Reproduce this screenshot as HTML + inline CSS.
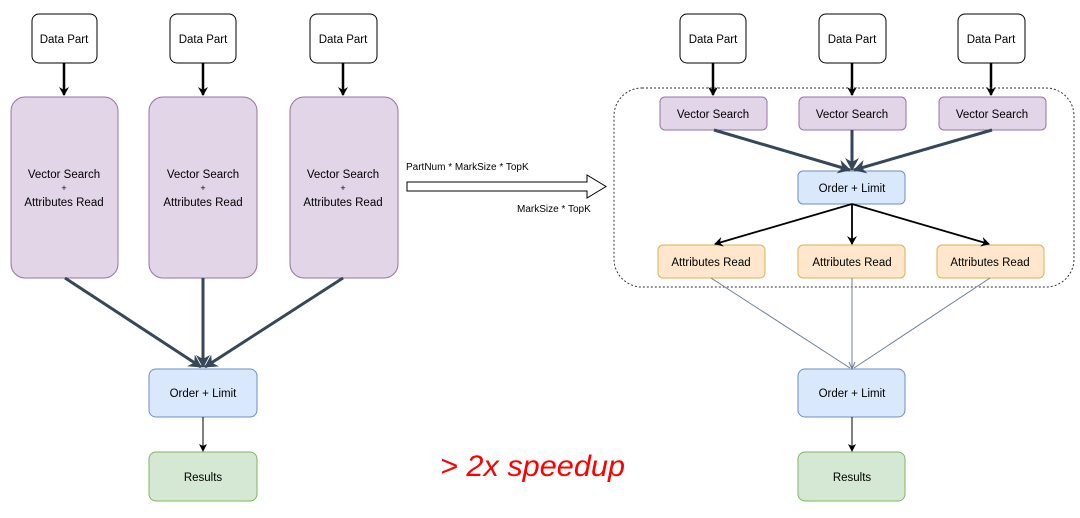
<!DOCTYPE html>
<html><head><meta charset="utf-8"><style>
body{margin:0;background:#fff;width:1080px;height:513px;overflow:hidden}
</style></head><body>
<svg width="1080" height="513" xmlns="http://www.w3.org/2000/svg" font-family="Liberation Sans, sans-serif" font-size="11.5" fill="#000">
<defs>
<marker id="ab" markerWidth="10" markerHeight="10" refX="8" refY="5" orient="auto" markerUnits="userSpaceOnUse"><path d="M0,0 L9,5 L0,10 L3,5 Z" fill="#000"/></marker>
<marker id="ad" markerWidth="14" markerHeight="14" refX="12" refY="7" orient="auto" markerUnits="userSpaceOnUse"><path d="M0,0 L13,7 L0,14 L4,7 Z" fill="#36475a"/></marker>
<marker id="as" markerWidth="8" markerHeight="8" refX="7" refY="4" orient="auto" markerUnits="userSpaceOnUse"><path d="M0,0 L8,4 L0,8 L2,4 Z" fill="#000"/></marker>
</defs>
<g stroke="#000" stroke-width="1" fill="#fff">
<rect x="32" y="14" width="65" height="49" rx="7"/><rect x="170" y="14" width="66" height="49" rx="7"/><rect x="310" y="14" width="67" height="49" rx="7"/>
<rect x="680" y="14" width="66" height="49" rx="7"/><rect x="819" y="14" width="67" height="49" rx="7"/><rect x="958" y="14" width="67" height="49" rx="7"/>
</g>
<g text-anchor="middle">
<text x="64" y="43">Data Part</text><text x="203" y="43">Data Part</text><text x="343" y="43">Data Part</text>
<text x="713" y="43">Data Part</text><text x="852" y="43">Data Part</text><text x="991" y="43">Data Part</text>
</g>
<g stroke="#000" stroke-width="2.5">
<line x1="64" y1="63" x2="64" y2="95" marker-end="url(#ab)"/><line x1="203" y1="63" x2="203" y2="95" marker-end="url(#ab)"/><line x1="343" y1="63" x2="343" y2="95" marker-end="url(#ab)"/>
<line x1="713" y1="63" x2="713" y2="95" marker-end="url(#ab)"/><line x1="852" y1="63" x2="852" y2="95" marker-end="url(#ab)"/><line x1="991" y1="63" x2="991" y2="95" marker-end="url(#ab)"/>
</g>
<g fill="#e1d5e7" stroke="#9673a6">
<rect x="11" y="97" width="107" height="181" rx="14"/><rect x="149" y="97" width="108" height="181" rx="14"/><rect x="290" y="97" width="108" height="181" rx="14"/>
<rect x="660" y="97" width="107" height="33" rx="5"/><rect x="799" y="97" width="107" height="33" rx="5"/><rect x="939" y="97" width="107" height="33" rx="5"/>
</g>
<g text-anchor="middle">
<text x="64" y="178">Vector Search</text><text x="64" y="191" font-size="9">+</text><text x="64" y="206">Attributes Read</text>
<text x="203" y="178">Vector Search</text><text x="203" y="191" font-size="9">+</text><text x="203" y="206">Attributes Read</text>
<text x="343" y="178">Vector Search</text><text x="343" y="191" font-size="9">+</text><text x="343" y="206">Attributes Read</text>
<text x="713" y="118">Vector Search</text><text x="852" y="118">Vector Search</text><text x="992" y="118">Vector Search</text>
</g>
<rect x="614" y="88" width="460" height="199" rx="28" fill="none" stroke="#333" stroke-dasharray="2,2"/>
<g fill="#dae8fc" stroke="#6c8ebf">
<rect x="149" y="369" width="108" height="48" rx="7"/><rect x="798" y="171" width="107" height="33" rx="5"/><rect x="798" y="369" width="107" height="48" rx="7"/>
</g>
<g fill="#d5e8d4" stroke="#82b366">
<rect x="149" y="452" width="108" height="49" rx="7"/><rect x="798" y="452" width="107" height="49" rx="7"/>
</g>
<g fill="#ffe6cc" stroke="#d6b656">
<rect x="658" y="245" width="107" height="33" rx="5"/><rect x="798" y="245" width="107" height="33" rx="5"/><rect x="937" y="245" width="107" height="33" rx="5"/>
</g>
<g text-anchor="middle">
<text x="203" y="397">Order + Limit</text><text x="852" y="192">Order + Limit</text><text x="852" y="397">Order + Limit</text>
<text x="203" y="481">Results</text><text x="852" y="481">Results</text>
<text x="711" y="266">Attributes Read</text><text x="852" y="266">Attributes Read</text><text x="990" y="266">Attributes Read</text>
</g>
<g stroke="#36475a" stroke-width="3">
<line x1="65" y1="278" x2="201" y2="367" marker-end="url(#ad)"/><line x1="203" y1="278" x2="203" y2="367" marker-end="url(#ad)"/><line x1="343" y1="278" x2="205" y2="367" marker-end="url(#ad)"/>
<line x1="714" y1="130" x2="850" y2="170" marker-end="url(#ad)"/><line x1="852" y1="130" x2="852" y2="170" marker-end="url(#ad)"/><line x1="992" y1="130" x2="854" y2="170" marker-end="url(#ad)"/>
</g>
<g stroke="#000" stroke-width="1.8">
<line x1="852" y1="204" x2="715" y2="244" marker-end="url(#ab)"/><line x1="852" y1="204" x2="852" y2="244" marker-end="url(#ab)"/><line x1="852" y1="204" x2="989" y2="244" marker-end="url(#ab)"/>
</g>
<g stroke="#6f7f90" stroke-width="1">
<line x1="711" y1="278" x2="850" y2="368"/><line x1="852" y1="278" x2="852" y2="368"/><line x1="990" y1="278" x2="854" y2="368"/>
</g>
<path d="M849,362 L852,369 L855,362" fill="none" stroke="#6f7f90"/>
<g stroke="#000" stroke-width="1">
<line x1="203" y1="417" x2="203" y2="451" marker-end="url(#as)"/><line x1="852" y1="417" x2="852" y2="451" marker-end="url(#as)"/>
</g>
<path d="M407,182 L587,182 L587,175 L606,186.5 L587,198 L587,191 L407,191 Z" fill="#fff" stroke="#000"/>
<text x="406" y="170" font-size="10">PartNum * MarkSize * TopK</text>
<text x="517" y="212" font-size="10">MarkSize * TopK</text>
<text x="440" y="476" font-size="30" font-style="italic" fill="#ff0000" textLength="185" lengthAdjust="spacingAndGlyphs">&gt; 2x speedup</text>
</svg>
</body></html>
